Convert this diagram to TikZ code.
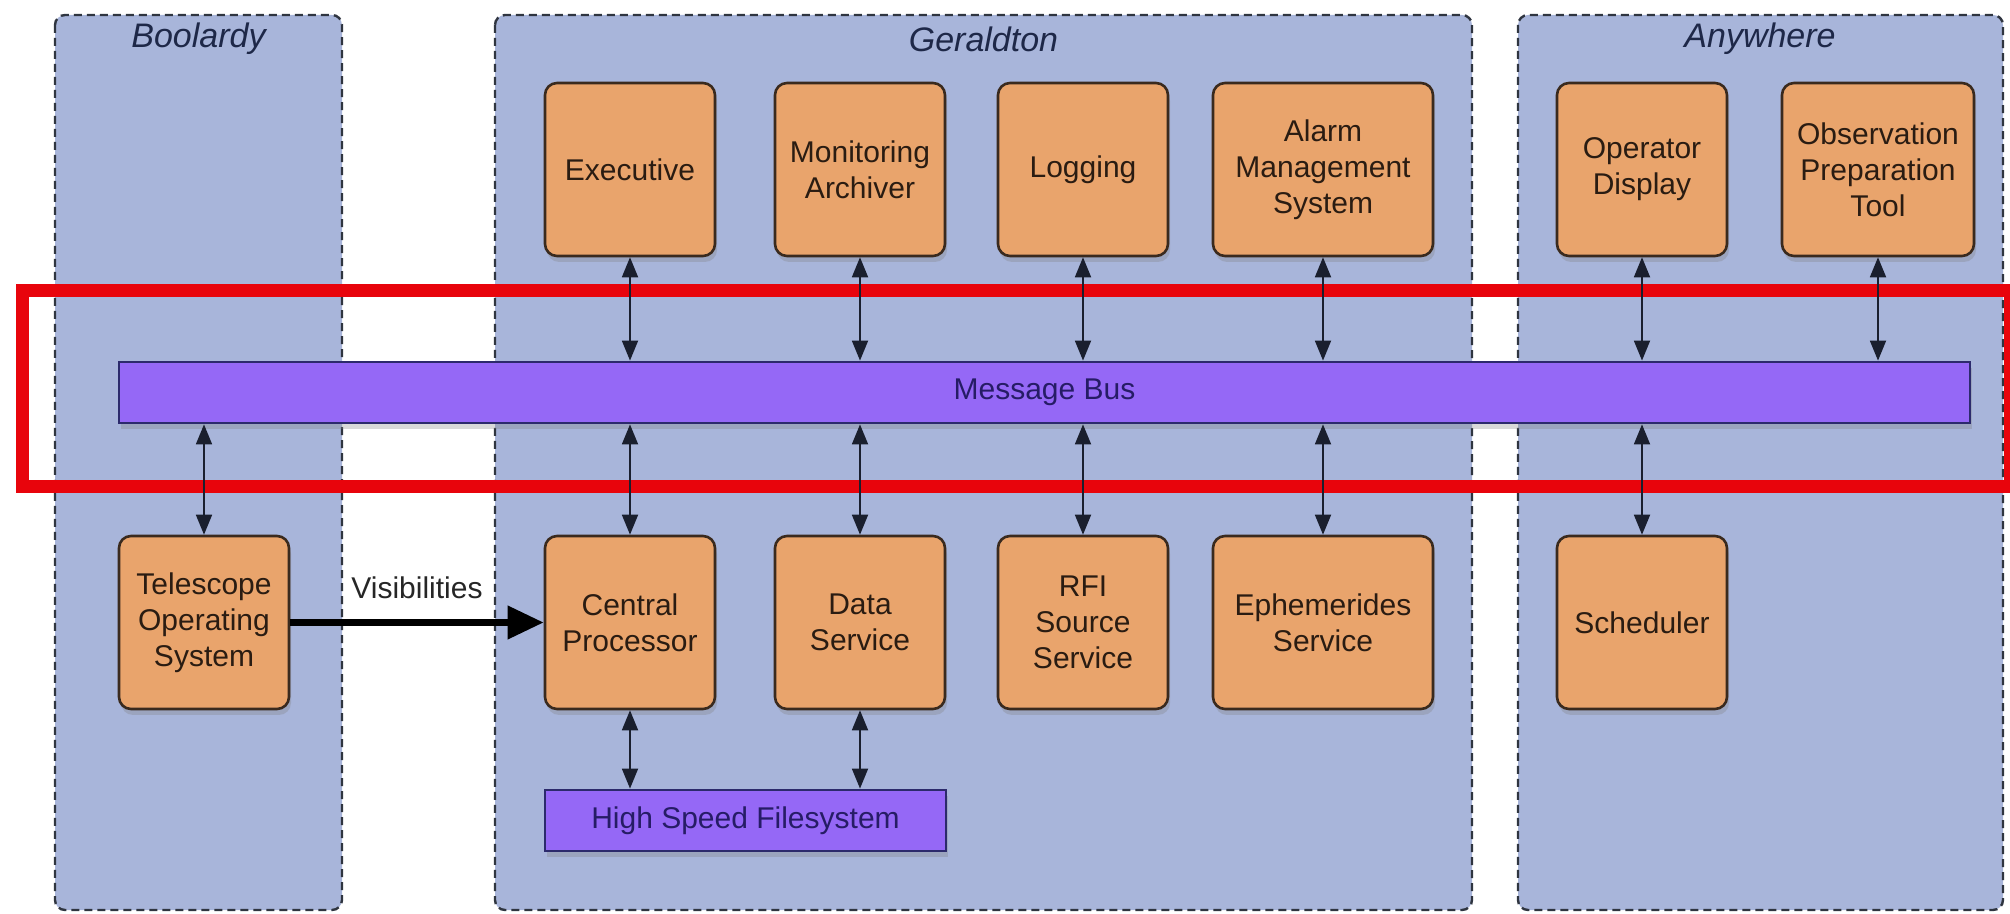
\documentclass[tikz,border=0pt]{standalone}
\usepackage{fontspec}
\setmainfont{Liberation Sans}
\usetikzlibrary{arrows.meta,shadows}

\definecolor{zonefill}{HTML}{A8B5DA}
\definecolor{zoneline}{HTML}{2F3540}
\definecolor{zonetext}{HTML}{1E2848}
\definecolor{compfill}{HTML}{E9A46C}
\definecolor{compline}{HTML}{3A2A1E}
\definecolor{comptext}{HTML}{2A1C12}
\definecolor{busfill}{HTML}{9568F6}
\definecolor{busline}{HTML}{2C2A6C}
\definecolor{bustext}{HTML}{261C66}
\definecolor{hilite}{HTML}{E8040C}
\definecolor{linkcol}{HTML}{1A1F2E}

\tikzset{
  zone/.style={draw=zoneline, fill=zonefill, dash pattern=on 4pt off 2.5pt, line width=1.2pt, rounded corners=5pt},
  zonename/.style={font=\fontsize{17}{20}\selectfont\itshape, text=zonetext},
  comp/.style={draw=compline, fill=compfill, line width=1.3pt, rounded corners=6pt,
    minimum width=85pt, minimum height=86.5pt, align=center, text=comptext,
    font=\fontsize{15}{18}\selectfont,
    drop shadow={shadow xshift=1pt, shadow yshift=-3pt, opacity=0.3}},
  bus/.style={draw=busline, fill=busfill, line width=1.4pt, minimum height=30.5pt,
    text=bustext, font=\fontsize{15}{18}\selectfont,
    drop shadow={shadow xshift=1pt, shadow yshift=-3pt, opacity=0.3}},
  link/.style={draw=linkcol, line width=0.9pt, {Triangle[length=10pt,width=8pt]}-{Triangle[length=10pt,width=8pt]}},
  flow/.style={draw=black, line width=3.5pt, -{Triangle[length=18pt,width=16pt]}},
}

\begin{document}
\begin{tikzpicture}[x=0.5pt, y=-0.5pt]
    \useasboundingbox (0,0) rectangle (2010,914);

    % sites
    \draw[zone] (55,15) rectangle (342,910);
    \draw[zone] (495,15) rectangle (1472,910);
    \draw[zone] (1518,15) rectangle (2003,910);
    \node[zonename] (boolardy) at (198.5,39) {Boolardy};
    \node[zonename] (geraldton) at (983.5,39) {Geraldton};
    \node[zonename] (anywhere) at (1760,39) {Anywhere};

    % highlight
    \draw[hilite, line width=6.5pt] (22,291) rectangle (2010,487);

    % components
    \node[comp] (exec) at (630,169.5) {Executive};
    \node[comp] (monarch) at (860,169.5) {Monitoring\\Archiver};
    \node[comp] (logging) at (1083,169.5) {Logging};
    \node[comp, minimum width=110pt] (alarm) at (1323,169.5) {Alarm\\Management\\System};
    \node[comp] (opdisp) at (1642,169.5) {Operator\\Display};
    \node[comp, minimum width=96pt] (obsprep) at (1878,169.5) {Observation\\Preparation\\Tool};

    \node[bus, minimum width=925.5pt] (msgbus) at (1044.5,392.5) {Message Bus};

    \node[comp] (tos) at (204,622.5) {Telescope\\Operating\\System};
    \node[comp] (cproc) at (630,622.5) {Central\\Processor};
    \node[comp] (datasvc) at (860,622.5) {Data\\Service};
    \node[comp] (rfi) at (1083,622.5) {RFI\\Source\\Service};
    \node[comp, minimum width=110pt] (ephem) at (1323,622.5) {Ephemerides\\Service};
    \node[comp] (sched) at (1642,622.5) {Scheduler};

    \node[bus, minimum width=200.5pt] (hsfs) at (745.5,820.5) {High Speed Filesystem};

    % connections
    \foreach \c in {exec,monarch,logging,alarm,opdisp,obsprep}
        \draw[link] (\c.south) -- (\c.south |- msgbus.north);
    \foreach \c in {tos,cproc,datasvc,rfi,ephem,sched}
        \draw[link] (msgbus.south -| \c.north) -- (\c.north);
    \foreach \c in {cproc,datasvc}
        \draw[link] (\c.south) -- (\c.south |- hsfs.north);

    \draw[flow] (tos.east) -- (cproc.west)
        node[midway, yshift=17.5pt, text=black!85, font=\fontsize{15}{18}\selectfont] (vislabel) {Visibilities};
\end{tikzpicture}
\end{document}
